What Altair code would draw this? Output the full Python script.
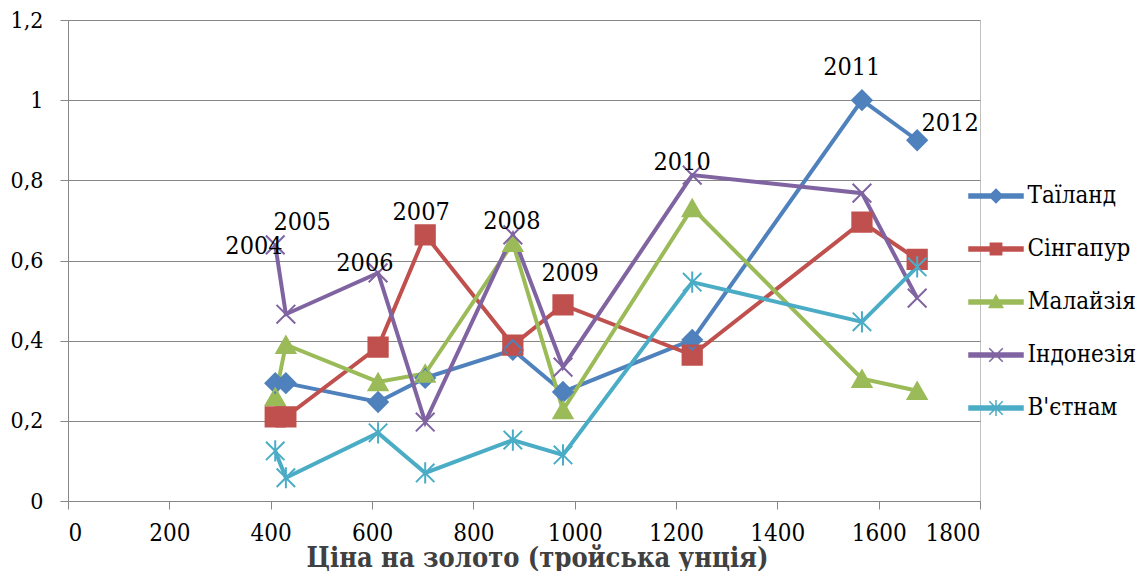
import altair as alt
import pandas as pd

years = ["2004", "2005", "2006", "2007", "2008", "2009", "2010", "2011", "2012"]
gold = [409, 430, 612, 705, 878, 977, 1232, 1567, 1676]
countries = ["Таїланд", "Сінгапур", "Малайзія", "Індонезія", "В'єтнам"]
thailand = [0.294, 0.294, 0.247, 0.307, 0.377, 0.272, 0.402, 1.0, 0.90]
singapore = [0.21, 0.21, 0.384, 0.664, 0.389, 0.489, 0.364, 0.696, 0.603]
malaysia = [0.26, 0.39, 0.297, 0.318, 0.644, 0.227, 0.731, 0.305, 0.275]
indonesia = [0.639, 0.466, 0.569, 0.197, 0.664, 0.334, 0.813, 0.768, 0.506]
vietnam = [0.125, 0.058, 0.17, 0.07, 0.152, 0.115, 0.546, 0.447, 0.584]
colors = ["#4F81BD", "#C0504D", "#9BBB59", "#8064A2", "#4BACC6"]

label_x = [367, 462, 586, 697, 876, 991, 1212, 1547, 1741]
label_y = [0.636, 0.696, 0.594, 0.721, 0.699, 0.569, 0.846, 1.083, 0.943]

x_ticks = [0, 200, 400, 600, 800, 1000, 1200, 1400, 1600, 1800]
y_ticks = [0, 0.2, 0.4, 0.6, 0.8, 1.0, 1.2]

FONT = "DejaVu Serif Condensed"

series = [thailand, singapore, malaysia, indonesia, vietnam]
rows = []
for c, vals in zip(countries, series):
    for yr, g, v in zip(years, gold, vals):
        rows.append({"country": c, "series": c, "year": yr, "gold": g, "value": v})
df = pd.DataFrame(rows)
labels_df = pd.DataFrame({"year": years, "lx": label_x, "ly": label_y})

X_PATH = "M-1,-1L1,1M-1,1L1,-1"
AST_PATH = "M-1,-1L1,1M-1,1L1,-1M0,-1.15L0,1.15"
shapes = ["diamond", "square", "triangle-up", X_PATH, AST_PATH]
sizes = [380, 340, 400, 340, 400]

LINE = "M-2,-0.14H2V0.14H-2Z"
legend_paths = [
    LINE + "M0,-0.5L0.5,0L0,0.5L-0.5,0Z",
    LINE + "M-0.42,-0.42H0.42V0.42H-0.42Z",
    LINE + "M0,-0.5L0.5,0.4L-0.5,0.4Z",
    LINE + "M-0.5,-0.5L0.5,0.5M-0.5,0.5L0.5,-0.5",
    LINE + "M-0.5,-0.5L0.5,0.5M-0.5,0.5L0.5,-0.5M0,-0.6L0,0.6",
]
expr = ""
for c, p in zip(countries, legend_paths):
    expr += 'datum.value === "' + c + '" ? "' + p + '" : '
expr += '"circle"'
col_expr = "scale('stroke', datum.value)"

legend = alt.Legend(
    orient="none", legendX=913.5, legendY=161.5, title=None,
    labelFont=FONT, labelFontSize=24, labelColor="black",
    symbolSize=729, rowPadding=26, labelOffset=17, padding=0,
    symbolType=alt.ExprRef(expr), symbolFillColor=alt.ExprRef(col_expr),
    symbolStrokeWidth=1.5)

xenc = alt.X("gold:Q", scale=alt.Scale(domain=[0, 1800], nice=False),
             axis=alt.Axis(values=x_ticks, title="Ціна на золото (тройська унція)", format="d",
                           titleFont=FONT, titleFontSize=27, titleFontWeight="bold",
                           titleColor="#404040", titleX=469, titleY=65, titleBaseline="alphabetic",
                           labelFontSize=24, labelPadding=31, labelBaseline="alphabetic",
                           grid=False, tickSize=8))
yenc = alt.Y("value:Q", scale=alt.Scale(domain=[0, 1.2], nice=False),
             axis=alt.Axis(values=y_ticks, title=None,
                           labelExpr="replace(format(datum.value, '.1~f'), '.', ',')",
                           labelFontSize=23, labelPadding=17, tickSize=8, grid=True))
# legend scale: data-driven domain (ordered by sort) so it is not merged with the marker scales
stroke = alt.Stroke("series:N", scale=alt.Scale(range=colors), sort=countries, legend=legend)
fill = alt.Fill("country:N", scale=alt.Scale(domain=countries, range=colors), legend=None)
colr = alt.Color("country:N", scale=alt.Scale(domain=countries, range=colors), legend=None)
shape = alt.Shape("country:N", scale=alt.Scale(domain=countries, range=shapes), legend=None)
size = alt.Size("country:N", scale=alt.Scale(domain=countries, range=sizes), legend=None)

base = alt.Chart(df)
lines = base.mark_line(strokeWidth=4).encode(x=xenc, y=yenc, stroke=stroke)
pts_fill = base.mark_point(filled=True, opacity=1, strokeWidth=0).encode(
    x=xenc, y=yenc, fill=fill, shape=shape, size=size)
pts_line = base.mark_point(filled=False, opacity=1, strokeWidth=2).encode(
    x=xenc, y=yenc, color=colr, shape=shape, size=size)
labels = alt.Chart(labels_df).mark_text(font=FONT, fontSize=25, color="black").encode(
    x=alt.X("lx:Q"), y=alt.Y("ly:Q"), text="year:N")

chart = alt.layer(lines, pts_fill, pts_line, labels).properties(
    width=912, height=481,
    padding={"left": 60, "top": 12, "right": 158, "bottom": 70},
    autosize=alt.AutoSizeParams(type="none"),
    background="white",
).configure_view(stroke="#c0c0c0", strokeWidth=1).configure_axis(
    gridColor="#878787", domainColor="#878787", tickColor="#878787",
    labelFont=FONT, labelColor="black", gridWidth=1, domainWidth=1,
)

chart.save("out.html", embed_options={"renderer": "svg", "actions": False})
